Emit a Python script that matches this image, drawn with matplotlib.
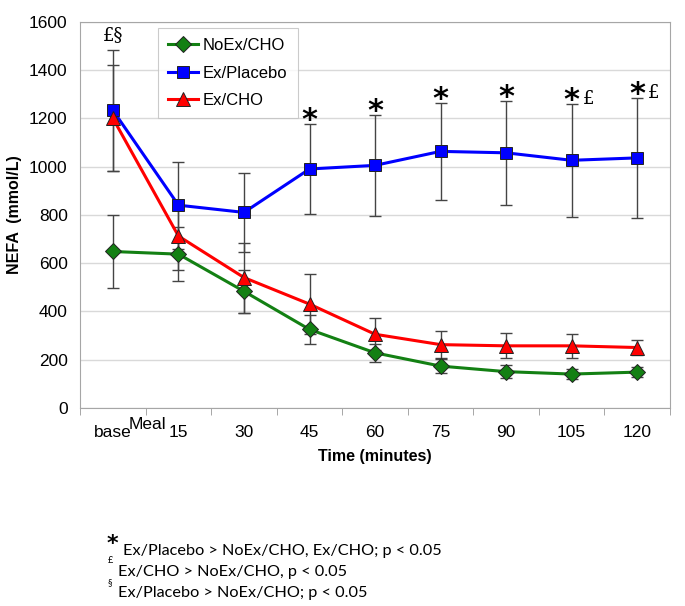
import numpy as np
import matplotlib
matplotlib.use("Agg")
import matplotlib.pyplot as plt

plt.rcParams['font.family'] = ['Liberation Sans', 'DejaVu Sans']

# data
time_labels = ['base', '15', '30', '45', '60', '75', '90', '105', '120']
noex_cho = [648, 637, 483, 325, 228, 173, 150, 140, 148]
noex_cho_err = [150, 111, 88, 60, 38, 30, 27, 20, 22]
ex_placebo = [1233, 840, 810, 990, 1005, 1063, 1057, 1026, 1036]
ex_placebo_err = [250, 180, 165, 185, 210, 202, 215, 235, 250]
ex_cho = [1200, 712, 540, 430, 305, 262, 257, 257, 250]
ex_cho_err = [220, 141, 145, 125, 67, 57, 52, 50, 32]

# significance marks (category indices)
star_idx = [3, 4, 5, 6, 7, 8]
pound_idx = [7, 8]

fig = plt.figure(figsize=(6.85, 6.06), dpi=100)
ax = fig.add_axes([0.117, 0.327, 0.861, 0.637])

x = np.arange(len(time_labels))
err_kw = dict(ecolor='#444444', elinewidth=1.0, capsize=4, capthick=1.0)

series = [
    ('NoEx/CHO', noex_cho, noex_cho_err, '#138013', 'D', 8),
    ('Ex/Placebo', ex_placebo, ex_placebo_err, '#0000ff', 's', 9),
    ('Ex/CHO', ex_cho, ex_cho_err, '#ff0000', '^', 10),
]
for name, vals, errs, col, mk, ms in series:
    ax.errorbar(x, vals, yerr=errs, fmt='none', zorder=2, **err_kw)
    ax.plot(x, vals, color=col, lw=2.2, marker=mk, ms=ms, mfc=col,
            mec='#222222', mew=0.7, label=name, zorder=3)

ax.set_xlim(-0.5, len(time_labels) - 0.5)
ax.set_ylim(0, 1600)
ax.set_yticks(np.arange(0, 1601, 200))
ax.yaxis.grid(True, color='#d9d9d9', lw=1)
ax.set_axisbelow(True)

ax.set_xticks(x)
ax.set_xticklabels(time_labels, fontsize=12.5)
ax.tick_params(axis='x', length=0, pad=12)
ax.set_xticks(np.arange(-0.5, len(time_labels), 1), minor=True)
ax.tick_params(axis='x', which='minor', length=5, color='#999999')
ax.tick_params(axis='y', labelsize=12.5, length=0, pad=9)
ax.text(0.52, -0.054, 'Meal', transform=ax.get_xaxis_transform(),
        ha='center', va='baseline', fontsize=12.5)

for s in ax.spines.values():
    s.set_color('#a6a6a6')

ax.set_ylabel('NEFA  (mmol/L)', fontsize=11.5, fontweight='bold', labelpad=5)
ax.set_xlabel('Time (minutes)', fontsize=11.5, fontweight='bold', labelpad=7)

leg = ax.legend(loc='upper left', bbox_to_anchor=(0.118, 1.005), fontsize=12,
                frameon=True, fancybox=False, edgecolor='#bfbfbf',
                handlelength=1.8, handletextpad=0.3, labelspacing=0.75,
                borderpad=0.6)
leg.get_frame().set_linewidth(0.8)

# significance markers above Ex/Placebo error bars
upper = np.array(ex_placebo) + np.array(ex_placebo_err)
for i in star_idx:
    ax.annotate('*', (x[i], upper[i]), xytext=(0, -8), textcoords='offset points',
                ha='center', va='bottom', fontsize=22, fontweight='bold',
                family='DejaVu Sans')
for i in pound_idx:
    ax.annotate('£', (x[i], upper[i]), xytext=(12, 3), textcoords='offset points',
                ha='center', va='center', fontsize=13, family='DejaVu Serif')
ax.annotate('£§', (x[0], upper[0]), xytext=(0, 4), textcoords='offset points',
            ha='center', va='bottom', fontsize=13, family='DejaVu Serif')

# footnotes
foot_kw = dict(fontsize=11.7, family='Lato', ha='left', va='baseline')
fig.text(0.156, 0.092, '*', fontsize=16, fontweight='bold', family='DejaVu Sans',
         ha='left', va='baseline')
fig.text(0.179, 0.084, 'Ex/Placebo > NoEx/CHO, Ex/CHO; p < 0.05', **foot_kw)
fig.text(0.157, 0.071, '£', fontsize=6.5, family='Lato', ha='left', va='baseline')
fig.text(0.172, 0.0495, 'Ex/CHO > NoEx/CHO, p < 0.05', **foot_kw)
fig.text(0.157, 0.035, '§', fontsize=6.5, family='Lato', ha='left', va='baseline')
fig.text(0.172, 0.015, 'Ex/Placebo > NoEx/CHO; p < 0.05', **foot_kw)

fig.savefig('out.png', dpi=100)
